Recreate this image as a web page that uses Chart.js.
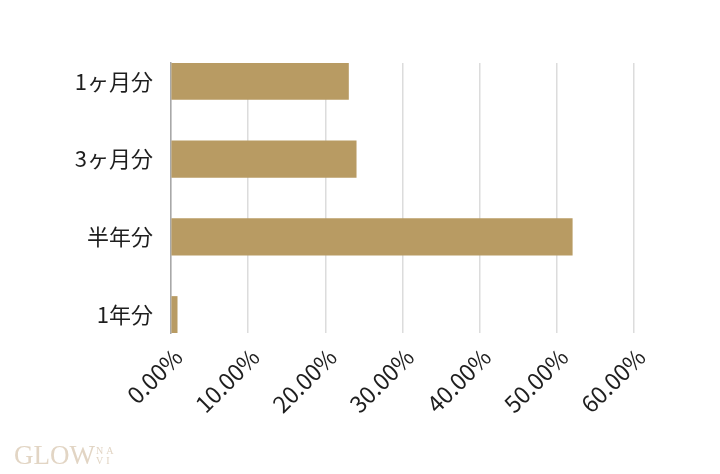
<!DOCTYPE html>
<html lang="ja">
<head>
<meta charset="utf-8">
<title>期間別</title>
<script src="https://cdn.jsdelivr.net/npm/chart.js@4.4.1/dist/chart.umd.min.js"></script>
<style>
  html, body { margin: 0; padding: 0; background: #fff; }
  #wrap { position: relative; width: 720px; height: 474px; }
  #logo {
    position: absolute; left: 14px; top: 440px;
    font-family: 'Liberation Serif', 'DejaVu Serif', serif;
    font-size: 27px; color: #e2d5c4;
  }
  #logo small {
    display: inline-block; font-size: 10px; line-height: 10px; width: 20px;
    vertical-align: top; margin-top: 6px; margin-left: 1px; letter-spacing: 3px;
  }
</style>
</head>
<body>
<div id="wrap">
  <canvas id="periodChart"></canvas>
  <div id="logo">GLOW<small>NA VI</small></div>
</div>
<script>
// Datos
const categories = ['1ヶ月分', '3ヶ月分', '半年分', '1年分'];
const shares = [23, 24, 52, 0.8];
const xTicks = [0, 10, 20, 30, 40, 50, 60];

const palette = {
  bar: '#b89b63',
  grid: '#dcdcdc',
  axis: '#a8a8a8',
  text: '#1e1e1e'
};

const fontFamily = "'Noto Sans CJK JP', 'Noto Sans', sans-serif";

new Chart(document.getElementById('periodChart'), {
  type: 'bar',
  data: {
    datasets: [{
      data: shares.map((v, i) => ({ x: v, y: i })),
      backgroundColor: palette.bar,
      borderWidth: 0,
      barThickness: 36.5
    }]
  },
  options: {
    indexAxis: 'y',
    responsive: true,
    maintainAspectRatio: false,
    animation: false,
    layout: { padding: { top: 63, right: 86, left: 0, bottom: 0 } },
    plugins: { legend: { display: false }, tooltip: { enabled: false } },
    scales: {
      x: {
        type: 'linear',
        min: xTicks[0],
        max: xTicks[xTicks.length - 1],
        afterBuildTicks: s => { s.ticks = xTicks.map(v => ({ value: v })); },
        afterFit: s => { s.height = 141; },
        ticks: {
          color: palette.text,
          font: { family: fontFamily, size: 23 },
          minRotation: 45,
          maxRotation: 45,
          padding: 10,
          labelOffset: 7,
          callback: v => v.toFixed(2) + '%'
        },
        grid: { color: palette.grid, lineWidth: 1.5, drawTicks: false },
        border: { display: false }
      },
      y: {
        type: 'linear',
        reverse: true,
        offset: false,
        min: -0.235,
        max: categories.length - 1 + 0.235,
        afterBuildTicks: s => { s.ticks = categories.map((c, i) => ({ value: i })); },
        afterFit: s => { s.width = 171; },
        ticks: {
          color: palette.text,
          font: { family: fontFamily, size: 22 },
          padding: 18,
          callback: v => categories[v]
        },
        grid: { display: false, drawTicks: false, offset: false },
        border: { display: true, color: palette.axis, width: 1.5 }
      }
    }
  }
});
</script>
</body>
</html>
